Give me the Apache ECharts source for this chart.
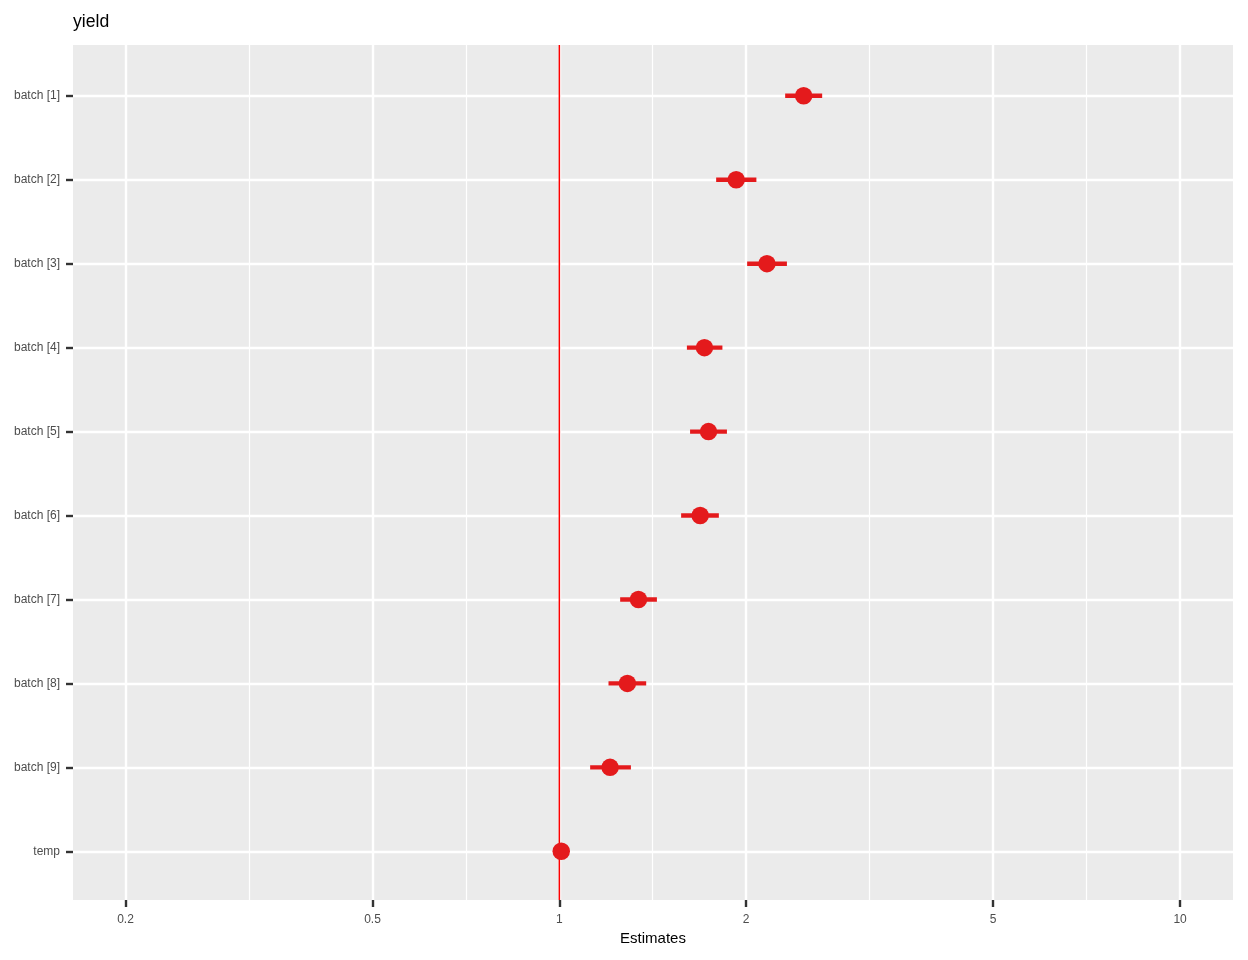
<!DOCTYPE html>
<html>
<head>
<meta charset="utf-8">
<script src="https://cdn.jsdelivr.net/npm/echarts@6/dist/echarts.min.js"></script>
<style>
html,body{margin:0;padding:0;background:#fff;}
#chart{width:1248px;height:960px;}
</style>
</head>
<body>
<div id="chart"></div>
<script>
// ---- data ----
const terms = ['batch [1]','batch [2]','batch [3]','batch [4]','batch [5]','batch [6]','batch [7]','batch [8]','batch [9]','temp'];
const estimates = [2.475, 1.927, 2.160, 1.713, 1.739, 1.686, 1.341, 1.287, 1.207, 1.007];
const ciLow  = [2.311, 1.789, 2.007, 1.605, 1.624, 1.571, 1.253, 1.200, 1.121, 1.004];
const ciHigh = [2.651, 2.077, 2.326, 1.831, 1.862, 1.807, 1.436, 1.380, 1.304, 1.010];
const xTicks = [0.2, 0.5, 1, 2, 5, 10];
const xMinorTicks = [0.316, 0.707, 1.414, 3.162, 7.071];
const xRange = [0.1646, 12.17];
const yRange = [0.395, 10.58];
const refValue = 1;

const L = Math.log10;
const rows = terms.map((t, i) => i + 1);
const pointData = estimates.map((e, i) => [L(e), rows[i]]);
const barData = estimates.map((e, i) => [L(ciLow[i]), L(ciHigh[i]), rows[i]]);
const refData = [[L(refValue), yRange[0]], [L(refValue), yRange[1]]];

const chart = echarts.init(document.getElementById('chart'), null, {renderer: 'canvas'});
const fontFam = '"Liberation Sans", Arial, sans-serif';

function fmtX(v) {
  let best = xTicks[0];
  xTicks.forEach(t => { if (Math.abs(L(t) - v) < Math.abs(L(best) - v)) best = t; });
  return String(best);
}

chart.setOption({
  animation: false,
  backgroundColor: '#ffffff',
  title: {
    text: 'yield', left: 73, top: 13, padding: 0,
    textStyle: {fontFamily: fontFam, fontSize: 17.6, fontWeight: 'normal', color: '#000'}
  },
  grid: {
    left: 73, right: 15, top: 45, bottom: 60,
    show: true, backgroundColor: '#ebebeb', borderWidth: 0
  },
  xAxis: [{
    type: 'value',
    min: L(xRange[0]), max: L(xRange[1]),
    name: 'Estimates', nameLocation: 'middle', nameGap: 30,
    nameTextStyle: {fontFamily: fontFam, fontSize: 15, color: '#000'},
    axisLine: {show: false, onZero: false},
    axisTick: {show: true, length: 7, customValues: xTicks.map(L), lineStyle: {color: '#333', width: 2.4}},
    axisLabel: {show: true, margin: 14, customValues: xTicks.map(L), formatter: fmtX,
      fontFamily: fontFam, fontSize: 12, color: '#4d4d4d'},
    splitLine: {show: true, lineStyle: {color: '#ffffff', width: 2.4}}
  }, {
    type: 'value',
    position: 'bottom',
    min: L(xRange[0]), max: L(xRange[1]),
    axisLine: {show: false, onZero: false},
    axisTick: {show: false, customValues: xMinorTicks.map(L)},
    axisLabel: {show: false, customValues: xMinorTicks.map(L)},
    splitLine: {show: true, lineStyle: {color: '#ffffff', width: 1.2}}
  }],
  yAxis: {
    type: 'value', inverse: true, min: yRange[0], max: yRange[1],
    position: 'left',
    axisLine: {show: false, onZero: false},
    axisTick: {show: true, length: 7, customValues: rows, lineStyle: {color: '#333', width: 2.4}},
    axisLabel: {show: true, margin: 13, customValues: rows,
      formatter: v => terms[Math.round(v) - 1] || '',
      fontFamily: fontFam, fontSize: 12, color: '#4d4d4d'},
    splitLine: {show: true, lineStyle: {color: '#ffffff', width: 2.4}}
  },
  series: [{
    type: 'line',
    z: 2,
    data: refData,
    symbol: 'none',
    silent: true,
    lineStyle: {color: '#ff0000', width: 1.5, opacity: 1},
    itemStyle: {color: '#ff0000'}
  }, {
    type: 'custom',
    z: 3,
    data: barData,
    renderItem: function (params, api) {
      const a = api.coord([api.value(0), api.value(2)]);
      const b = api.coord([api.value(1), api.value(2)]);
      return {
        type: 'line',
        shape: {x1: a[0], y1: a[1], x2: b[0], y2: b[1]},
        style: {stroke: '#e41a1c', lineWidth: 4.4, lineCap: 'butt'}
      };
    }
  }, {
    type: 'scatter',
    z: 4,
    data: pointData,
    symbol: 'circle', symbolSize: 17.5,
    itemStyle: {color: '#e41a1c', opacity: 1}
  }]
});
</script>
</body>
</html>
